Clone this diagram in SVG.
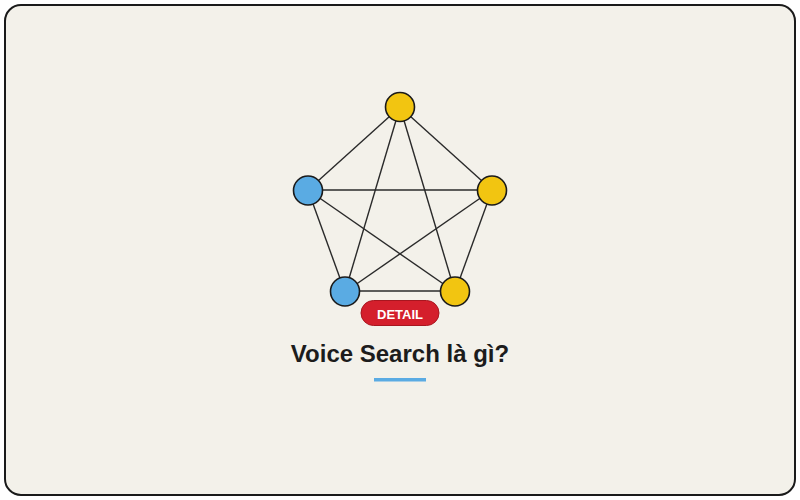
<svg xmlns="http://www.w3.org/2000/svg" width="800" height="500" viewBox="0 0 800 500">
<style>
.edge{stroke:#2a2a2a;stroke-width:1.4;fill:none}
.node{stroke:#1a1a1a;stroke-width:1.6}
.blue{fill:#5aabe3}
.yellow{fill:#f2c511}
.title{font-family:"Liberation Sans",Arial,sans-serif;font-weight:bold;font-size:24px;fill:#1c1c1c}
.btn-text{font-family:"Liberation Sans",Arial,sans-serif;font-weight:bold;font-size:13px;fill:#ffffff}
</style>
<rect x="5" y="5" width="790" height="490" rx="16" fill="#f3f1ea" stroke="#1a1a1a" stroke-width="2"/>
<g id="connectors">
<line class="edge" x1="400" y1="107" x2="308" y2="190"/>
<line class="edge" x1="400" y1="107" x2="492" y2="190"/>
<line class="edge" x1="400" y1="107" x2="345" y2="292"/>
<line class="edge" x1="400" y1="107" x2="455" y2="292"/>
<line class="edge" x1="308" y1="190" x2="492" y2="190"/>
<line class="edge" x1="308" y1="190" x2="345" y2="292"/>
<line class="edge" x1="308" y1="190" x2="455" y2="292"/>
<line class="edge" x1="492" y1="190" x2="345" y2="292"/>
<line class="edge" x1="492" y1="190" x2="455" y2="292"/>
<line class="edge" x1="345" y1="291" x2="455" y2="291" stroke-width="1.8"/>
</g>
<g id="node-top"><circle class="node yellow" cx="400" cy="107" r="14.5"/></g>
<g id="node-left"><circle class="node blue" cx="308" cy="190.5" r="14.5"/></g>
<g id="node-right"><circle class="node yellow" cx="492" cy="190.5" r="14.5"/></g>
<g id="node-bottom-left"><circle class="node blue" cx="345" cy="291.5" r="14.5"/></g>
<g id="node-bottom-right"><circle class="node yellow" cx="455" cy="291.5" r="14.5"/></g>
<g id="detail-button">
<rect x="361" y="300.5" width="78" height="25" rx="12.5" fill="#d41f2c" stroke="#a8161f" stroke-width="1"/>
<text class="btn-text" x="400" y="318.5" text-anchor="middle">DETAIL</text>
</g>
<g id="title">
<text class="title" x="400" y="362" text-anchor="middle">Voice Search là gì?</text>
<rect x="374" y="378" width="52" height="3.5" fill="#5aabe3"/>
</g>
</svg>
